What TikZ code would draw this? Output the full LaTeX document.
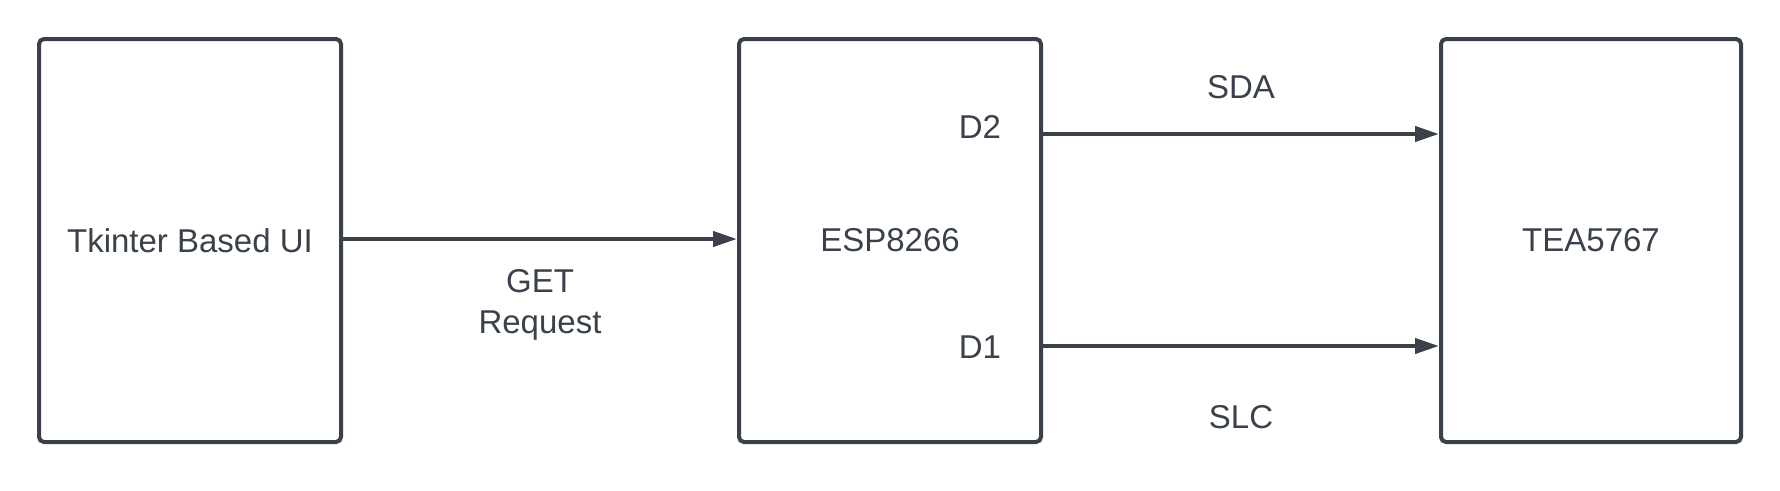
\documentclass[tikz,border=0pt]{standalone}
\usepackage{fontspec}
\setmainfont{Liberation Sans}
\usetikzlibrary{arrows.meta}
\definecolor{ink}{HTML}{3A414A}
\begin{document}
\begin{tikzpicture}[x=1pt,y=-1pt,
  blk/.style={draw=ink,line width=4pt,rounded corners=5pt,minimum width=302pt,minimum height=403pt,inner sep=0pt,text=ink,font=\fontsize{33}{41}\selectfont},
  lbl/.style={text=ink,font=\fontsize{33}{41}\selectfont,inner sep=0pt,align=center},
  conn/.style={draw=ink,line width=4pt,-{Triangle[length=24pt,width=15pt]}}]
\useasboundingbox (0,0) rectangle (1780,490);
\node[blk] (ui) at (190,240.5) {Tkinter Based UI};
\node[blk] (esp) at (890,240.5) {ESP8266};
\node[blk, minimum width=300pt] (tea) at (1591,240.5) {TEA5767};
\node[lbl] (d2) at (980,127) {D2};
\node[lbl] (d1) at (980,347) {D1};
\node[lbl] (sda) at (1241,87) {SDA};
\node[lbl] (slc) at (1241,417) {SLC};
\node[lbl] (get) at (540,305) {GET\\Request};
\draw[conn] (ui.east |- 0,239) -- (esp.west |- 0,239);
\draw[conn] (esp.east |- 0,134) -- (tea.west |- 0,134);
\draw[conn] (esp.east |- 0,346) -- (tea.west |- 0,346);
\end{tikzpicture}
\end{document}
